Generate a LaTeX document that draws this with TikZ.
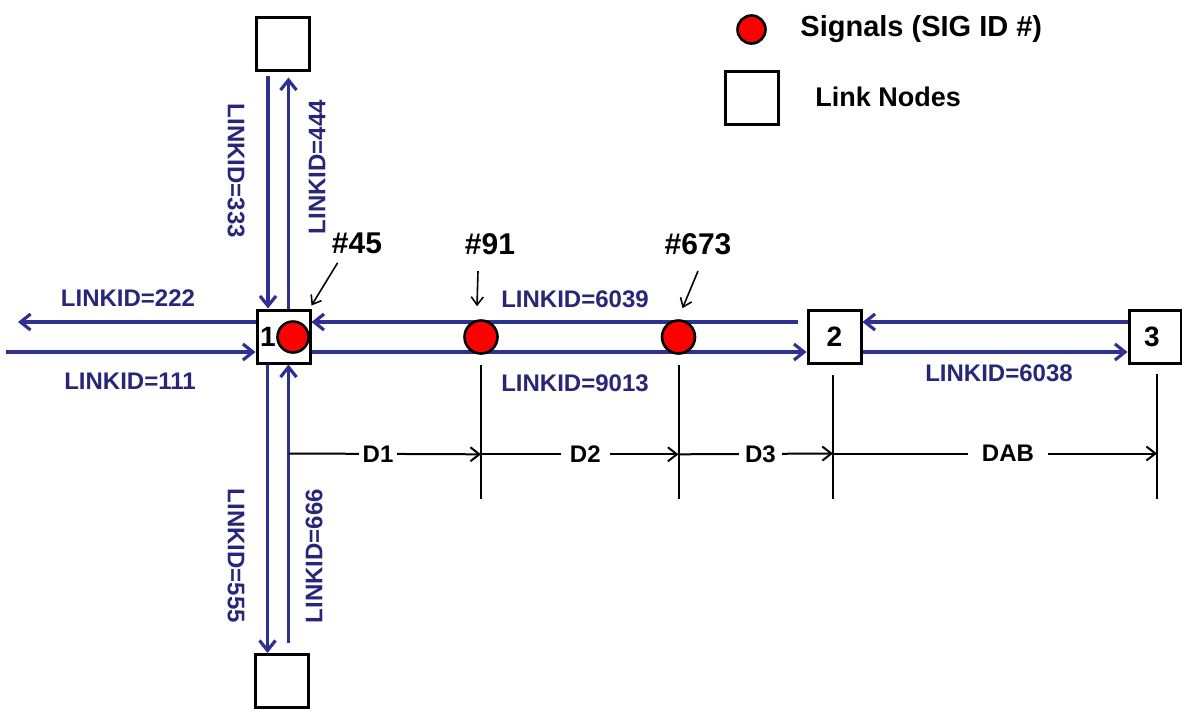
\documentclass[tikz,border=0pt]{standalone}
\usepackage{fontspec}
\setmainfont{Liberation Sans}
\usetikzlibrary{arrows.meta,calc}
\definecolor{lnk}{RGB}{46,49,146}
\definecolor{lnktxt}{RGB}{40,38,120}
\begin{document}
\begin{tikzpicture}[x=0.5pt,y=-0.5pt,
  linknode/.style={draw=black,line width=1.5pt,fill=white,minimum width=26.5pt,minimum height=26.5pt,inner sep=0pt},
  sig/.style={circle,draw=black,line width=1.3pt,fill=red,minimum size=15.5pt,inner sep=0pt},
  blink/.style={draw=lnk,line width=1.6pt,-{Straight Barb[length=5pt,width=8pt]}},
  linklab/.style={text=lnktxt,font=\fontsize{12}{14}\selectfont\bfseries,inner sep=0pt},
  siglab/.style={font=\fontsize{15}{17}\selectfont\bfseries,inner sep=0pt},
  sigarrow/.style={draw=black,line width=0.8pt,-{Straight Barb[length=4pt,width=6pt]}},
  dimline/.style={draw=black,line width=1pt,-{Straight Barb[length=4.5pt,width=7pt]}},
  dimtick/.style={draw=black,line width=1pt},
  dimlab/.style={fill=white,font=\fontsize{12}{14}\selectfont\bfseries,inner ysep=1pt,inner xsep=3pt},
  numlab/.style={font=\fontsize{14}{16}\selectfont\bfseries,inner sep=0pt},
  legtext/.style={font=\fontsize{14.5}{17}\selectfont\bfseries,anchor=west,inner sep=0pt}
]
\useasboundingbox (0,0) rectangle (1182,708);

% link nodes
\node[linknode] (top) at (283,43.5) {};
\node[linknode] (n1) at (283.5,336.5) {};
\node[linknode] (bot) at (282,681) {};
\node[linknode] (n2) at (834.5,336.5) {};
\node[linknode,minimum width=26pt] (n3) at (1155,336.5) {};
\node[numlab] (n1lab) at (268,337) {1};
\node[numlab] (n2lab) at (n2) {2};
\node[numlab] (n3lab) at ($(n3)+(-3,0)$) {3};

% free ends
\coordinate (w222) at (18,322);
\coordinate (w111) at (6,352);

% horizontal links
\draw[blink] ($(n1.west)+(0,-14.5)$) -- (w222);
\draw[blink] (w111) -- ($(n1.west)+(0,15.5)$);
\draw[blink] ($(n2.west)+(-9,-14.5)$) -- ($(n1.east)+(0,-14.5)$);
\draw[blink] ($(n1.east)+(0,15.5)$) -- ($(n2.west)+(0,15.5)$);
\draw[blink] ($(n3.west)+(0,-14.5)$) -- ($(n2.east)+(0,-14.5)$);
\draw[blink] ($(n2.east)+(0,15.5)$) -- ($(n3.west)+(0,15.5)$);

% vertical links
\draw[blink] ($(top.south)+(-15,4)$) -- ($(n1.north)+(-15.5,0)$);
\draw[blink] ($(n1.north)+(5,0)$) -- ($(top.south)+(5.5,6)$);
\draw[blink] ($(n1.south)+(-16,0)$) -- ($(bot.north)+(-14.5,0)$);
\draw[blink] ($(bot.north)+(6.5,-10)$) -- ($(n1.south)+(5,0)$);

% link labels
\node[linklab] (l222) at (128,298) {LINKID=222};
\node[linklab] (l111) at (130,381) {LINKID=111};
\node[linklab] (l6039) at (575,299) {LINKID=6039};
\node[linklab] (l9013) at (575,383) {LINKID=9013};
\node[linklab] (l6038) at (999,373) {LINKID=6038};
\node[linklab,rotate=-90] (l333) at (236,171) {LINKID=333};
\node[linklab,rotate=90] (l444) at (317,167) {LINKID=444};
\node[linklab,rotate=-90] (l555) at (236,556) {LINKID=555};
\node[linklab,rotate=90] (l666) at (314,556) {LINKID=666};

% signals
\node[sig] (s45) at (293,337) {};
\node[sig,minimum size=16.5pt] (s91) at (481,337) {};
\node[sig,minimum size=16.5pt] (s673) at (678.5,337) {};

% signal labels
\node[siglab] (l45) at (357,243) {\#45};
\node[siglab] (l91) at (490,244) {\#91};
\node[siglab] (l673) at (698,244) {\#673};
\draw[sigarrow] ($(l45.south west)+(6,9)$) -- ($(n1.north east)+(0,-3)$);
\draw[sigarrow] ($(l91.south)+(-12,16)$) -- ($(s91.north)+(-4,-13)$);
\draw[sigarrow] ($(l673.south)+(0,16)$) -- ($(s673.north)+(4,-11)$);

% dimension ticks
\draw[dimtick] ($(s91.south)+(0,10)$) -- ($(s91.south)+(0,144)$);
\draw[dimtick] ($(s673.south)+(0,10)$) -- ($(s673.south)+(0,144)$);
\draw[dimtick] ($(n2.south)+(-1.5,10)$) -- ($(n2.south)+(-1.5,134)$);
\draw[dimtick] ($(n3.south)+(2,9)$) -- ($(n3.south)+(2,134)$);

\coordinate (d0) at ($(n1.south)+(5,89)$);
\coordinate (d1) at ($(s91.south)+(0,99.5)$);
\coordinate (d2) at ($(s673.south)+(0,99.5)$);
\coordinate (d3) at ($(n2.south)+(-1.5,89)$);
\coordinate (d4) at ($(n3.south)+(2,89)$);

\draw[dimline] (d0) -- node[dimlab,pos=0.465,inner xsep=2pt] (dl1) {D1} (d1);
\draw[dimline] (d1) -- node[dimlab,pos=0.528,inner xsep=4.5pt] (dl2) {D2} (d2);
\draw[dimline] (d2) -- node[dimlab,pos=0.53,inner xsep=3pt] (dl3) {D3} (d3);
\draw[dimline] (d3) -- node[dimlab,pos=0.54,inner xsep=7pt] (dl4) {DAB} (d4);

% legend
\node[sig,minimum size=14pt] (legsig) at (751.5,29.5) {};
\node[legtext] (legsigtxt) at (800,29) {Signals (SIG ID \#)};
\node[linknode] (legbox) at (752,97.5) {};
\node[legtext,font=\fontsize{13.5}{16}\selectfont\bfseries] (legboxtxt) at (815,97) {Link Nodes};
\end{tikzpicture}
\end{document}
